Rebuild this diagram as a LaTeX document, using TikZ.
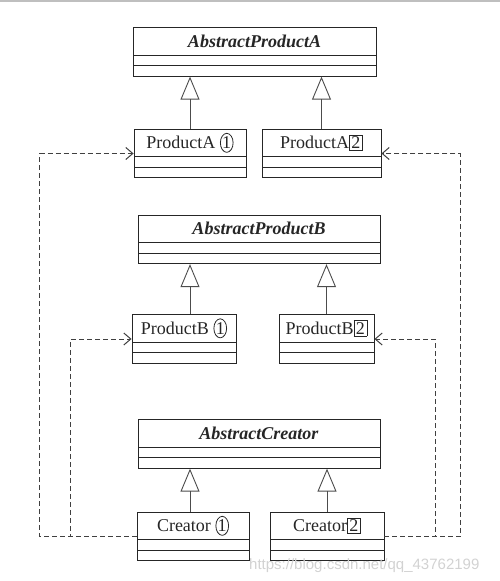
\documentclass[tikz,border=0pt]{standalone}
\usepackage{fontspec}
\setmainfont{Liberation Serif}
\usetikzlibrary{shapes.multipart,shapes.geometric,arrows.meta}

\newcommand{\clsname}[1]{\rule[-5pt]{0pt}{21.5pt}#1}
\newcommand{\numone}{\tikz[baseline=(n.base),every node/.style={}]
  \node[ellipse,draw,line width=0.8pt,inner sep=0pt,minimum width=12pt,minimum height=19pt] (n) {1};}
\newcommand{\numtwo}{{\setlength{\fboxsep}{1.5pt}\setlength{\fboxrule}{0.8pt}\fbox{2}}}

\tikzset{
  cls/.style={rectangle split, rectangle split parts=3, draw=black!85, line width=0.9pt,
    inner ysep=2.5pt, rectangle split empty part height=2pt, rectangle split empty part depth=0pt,
    font=\fontsize{18}{20}\selectfont, text=black!85},
  inh/.style={-{Triangle[open,length=23pt,width=19pt]}, draw=black!70, line width=0.9pt},
  dep/.style={-{Straight Barb[length=7pt,width=12pt]}, draw=black!75, line width=1pt,
    dash pattern=on 5pt off 3pt},
}

\begin{document}
\begin{tikzpicture}[x=1pt,y=-1pt]
      \useasboundingbox (0,0) rectangle (500,581);
      \draw[gray!50, line width=2pt] (0,1) -- (500,1);

      \begin{scope}[every node/.style={cls}]
        \node[minimum width=243pt] (apa) at (254.5,52)  {\clsname{\textbf{\textit{AbstractProductA}}}\nodepart{two}\nodepart{three}};
        \node[minimum width=112pt] (pa1) at (190,153.5) {\clsname{ProductA \numone}\nodepart{two}\nodepart{three}};
        \node[minimum width=119pt] (pa2) at (321.5,153.5) {\clsname{ProductA\numtwo}\nodepart{two}\nodepart{three}};

        \node[minimum width=242pt] (apb) at (259,239.5) {\clsname{\textbf{\textit{AbstractProductB}}}\nodepart{two}\nodepart{three}};
        \node[minimum width=104pt] (pb1) at (184,339)   {\clsname{ProductB \numone}\nodepart{two}\nodepart{three}};
        \node[minimum width=95pt]  (pb2) at (326.5,339) {\clsname{ProductB\numtwo}\nodepart{two}\nodepart{three}};

        \node[minimum width=242pt] (apc) at (259,444)   {\clsname{\textbf{\textit{AbstractCreator}}}\nodepart{two}\nodepart{three}};
        \node[minimum width=112pt] (c1)  at (193,536.5) {\clsname{Creator \numone}\nodepart{two}\nodepart{three}};
        \node[minimum width=114pt] (c2)  at (327,536.5) {\clsname{Creator\numtwo}\nodepart{two}\nodepart{three}};
      \end{scope}

      % inheritance
      \begin{scope}[every edge/.style={draw,inh}]
        \path (pa1) edge (pa1 |- apa.south);
        \path (pa2) edge (pa2 |- apa.south);
        \path ([xshift=6pt]pb1.north) edge ([xshift=6pt]pb1.north |- apb.south);
        \path (pb2) edge (pb2 |- apb.south);
        \path ([xshift=-3pt]c1.north) edge ([xshift=-3pt]c1.north |- apc.south);
        \path (c2) edge (c2 |- apc.south);
      \end{scope}

      % creators use products
      \draw[dep] (c1.west) -- ++(-97,0) |- (pa1.west);
      \draw[dep] (c1.west) -- ++(-66,0) |- (pb1.west);
      \draw[dep] (c2.east) -- ++(76,0) |- (pa2.east);
      \draw[dep] (c2.east) -- ++(51,0) |- (pb2.east);

      \node[anchor=west, inner sep=0pt, text=gray!35,
        font=\fontspec{Liberation Sans}\fontsize{15}{16}\selectfont] (wm) at (249,566) {https://blog.csdn.net/qq\_43762199};

    \end{tikzpicture}
\end{document}
